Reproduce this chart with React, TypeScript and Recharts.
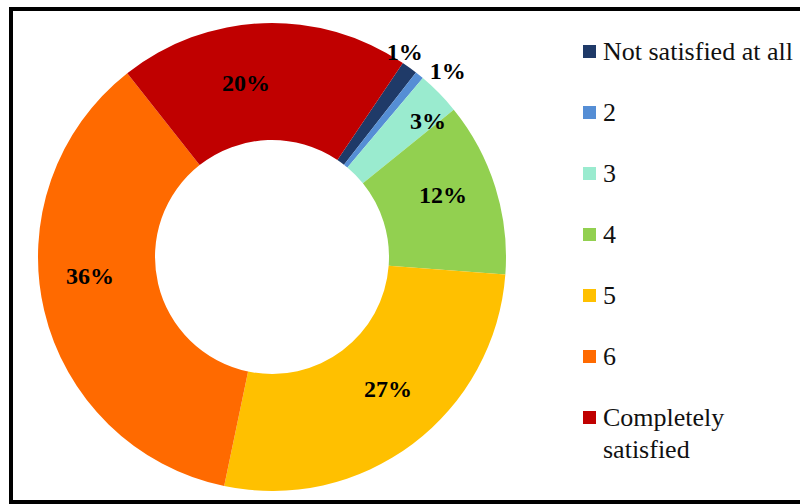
import * as React from "react";
import { Cell, Legend, Pie, PieChart } from "recharts";

// satisfaction scale, 1 = not satisfied at all ... 7 = completely satisfied
const categories = ["Not satisfied at all", "2", "3", "4", "5", "6", "Completely satisfied"];
const shares = [1.1, 0.6, 3, 12, 27, 36, 20];
const colors = ["#1F3A68", "#558ED5", "#9AEBCF", "#92D050", "#FFC000", "#FF6A00", "#C00000"];

// where each percentage label sits: angle nudge (deg, clockwise) and radius
const labelNudge = [-3, 4.3, 3.3, -2.6, -4.3, 7.2, -6.4];
const labelRadius = [244, 256, 207, 182, 176, 183, 176];

const data = categories.map((name, i) => ({ name, value: shares[i], color: colors[i] }));

const RAD = Math.PI / 180;
const SERIF = '"Liberation Serif", "Times New Roman", serif';

function PctLabel(props: any) {
  const { cx, cy, midAngle, percent, index } = props;
  const a = midAngle - labelNudge[index];
  const r = labelRadius[index];
  const x = cx + r * Math.cos(-a * RAD);
  const y = cy + r * Math.sin(-a * RAD);
  return (
    <text
      x={x}
      y={y}
      textAnchor="middle"
      dominantBaseline="central"
      fontFamily={SERIF}
      fontWeight="bold"
      fontSize={24}
      fill="#000"
    >
      {Math.round(percent * 100)}%
    </text>
  );
}

function LegendBox() {
  return (
    <div style={{ fontFamily: SERIF, fontSize: 26, color: "#111" }}>
      {data.map((d) => (
        <div
          key={d.name}
          style={{ height: 61, paddingTop: 14.5, boxSizing: "border-box", display: "flex" }}
        >
          <div
            style={{
              width: 13,
              height: 13,
              marginTop: 9.5,
              marginRight: 7,
              background: d.color,
              flex: "none",
            }}
          />
          <div style={{ lineHeight: "32px", width: 200, whiteSpace: "nowrap" }}>
            {d.name === "Completely satisfied" ? (
              <>
                Completely
                <br />
                satisfied
              </>
            ) : (
              d.name
            )}
          </div>
        </div>
      ))}
    </div>
  );
}

export default function App() {
  return (
    <div
      style={{
        position: "fixed",
        left: 0,
        top: 0,
        width: 800,
        height: 504,
        background: "#fff",
        overflow: "hidden",
      }}
    >
      <div
        style={{
          position: "absolute",
          left: 9,
          top: 7,
          width: 900,
          height: 497,
          border: "4px solid #000",
          boxSizing: "border-box",
        }}
      />
      <div style={{ position: "absolute", left: 0, top: 0 }}>
        <PieChart width={800} height={504} margin={{ top: 0, right: 0, bottom: 0, left: 0 }}>
          <Pie
            data={data}
            dataKey="value"
            nameKey="name"
            cx={272}
            cy={257}
            innerRadius={117}
            outerRadius={234}
            startAngle={56}
            endAngle={-304}
            stroke="none"
            label={PctLabel}
            labelLine={false}
            isAnimationActive={false}
          >
            {data.map((d) => (
              <Cell key={d.name} fill={d.color} />
            ))}
          </Pie>
          <Legend
            content={<LegendBox />}
            layout="vertical"
            wrapperStyle={{ position: "absolute", left: 583, top: 21, width: 217 }}
          />
        </PieChart>
      </div>
    </div>
  );
}
